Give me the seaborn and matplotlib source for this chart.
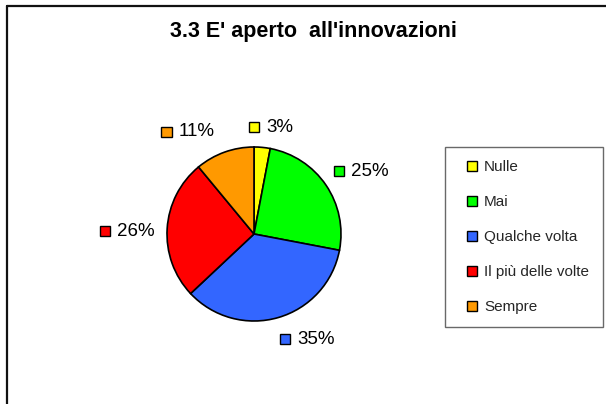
import matplotlib
matplotlib.use("Agg")
import matplotlib.pyplot as plt
import seaborn as sns
import numpy as np
from matplotlib.patches import Rectangle
from matplotlib.lines import Line2D
from matplotlib.offsetbox import HPacker, TextArea, DrawingArea, AnnotationBbox

# ---- data ----
categories = ["Nulle", "Mai", "Qualche volta", "Il più delle volte", "Sempre"]
values = [3, 25, 35, 26, 11]
pct_labels = ["3%", "25%", "35%", "26%", "11%"]
colors_hex = ["#FFFF00", "#00FF00", "#3366FF", "#FF0000", "#FF9900"]
title = "3.3 E' aperto  all'innovazioni"

# ---- layout: label box centres relative to the pie centre, in pixels ----
label_offsets = [(17, 107), (107, 63), (53, -105), (-127, 3), (-66, 102)]

sns.set_theme(style="white")
plt.rcParams["font.family"] = ["Liberation Sans", "DejaVu Sans"]

W, H = 606, 404
fig = plt.figure(figsize=(6.06, 4.04), dpi=100)
fig.patch.set_facecolor("white")
ax = fig.add_axes([0, 0, 1, 1])
palette = sns.color_palette(colors_hex)

cx, cy, R = 254, H - 234, 87
wedges, _ = ax.pie(values, colors=palette, startangle=90, counterclock=False,
                   center=(cx, cy), radius=R,
                   wedgeprops=dict(edgecolor="black", linewidth=1.2))
ax.set_xlim(0, W)
ax.set_ylim(0, H)
ax.set_aspect("equal")
ax.axis("off")

for lab, col, (ox, oy) in zip(pct_labels, palette, label_offsets):
    da = DrawingArea(7.5, 7.5, 0, 0)
    da.add_artist(Rectangle((0, 0), 7.5, 7.5, facecolor=col, edgecolor="black", linewidth=1.0))
    ta = TextArea(lab, textprops=dict(fontsize=13.5, color="black"))
    box = HPacker(children=[da, ta], align="center", pad=0, sep=5)
    ab = AnnotationBbox(box, (cx + ox, cy + oy), frameon=False,
                        box_alignment=(0.5, 0.5), pad=0)
    ax.add_artist(ab)

handles = [Line2D([0], [0], marker="s", linestyle="none", markersize=6.5,
                  markerfacecolor=c, markeredgecolor="black", markeredgewidth=1.0)
           for c in palette]
leg = ax.legend(handles, categories, loc="upper left",
                bbox_to_anchor=(445 / W, 80 / H, 158 / W, 177 / H),
                bbox_transform=fig.transFigure, mode="expand",
                frameon=True, fancybox=False, fontsize=11,
                handlelength=1.9, handletextpad=-0.2, labelspacing=1.38,
                borderpad=0.85, borderaxespad=0)
leg.get_frame().set_edgecolor("#444444")
leg.get_frame().set_linewidth(1.0)

fig.text(313 / W, 1 - 32 / H, title, ha="center", va="center",
         fontsize=15.5, fontweight="bold", color="black")

# chart area border (only left and top edges fall inside the image)
fig.add_artist(Line2D([7 / W, 7 / W], [0, 1 - 6 / H], transform=fig.transFigure,
                      color="#111111", linewidth=1.6))
fig.add_artist(Line2D([7 / W, 1], [1 - 6 / H, 1 - 6 / H], transform=fig.transFigure,
                      color="#111111", linewidth=1.6))

fig.savefig("out.png", dpi=100)
